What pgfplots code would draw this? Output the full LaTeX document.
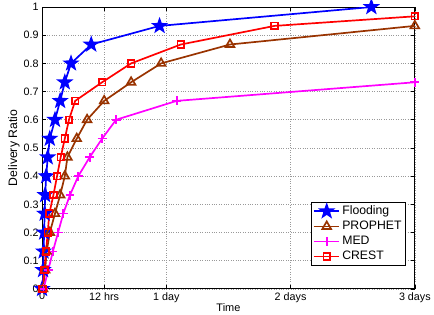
\documentclass[border={5bp 0pt 0pt 0pt}]{standalone}
\usepackage{pgfplots}
\pgfplotsset{compat=1.18}
\usepackage{fontspec}
\setmainfont{Liberation Sans}
\definecolor{cbrown}{rgb}{0.6,0.2,0}
\definecolor{cmag}{rgb}{1,0,1}
\pgfdeclareplotmark{fstar}{%
 \pgfpathmoveto{\pgfpointpolar{90}{\pgfplotmarksize}}%
 \pgfpathlineto{\pgfpointpolar{126}{0.4\pgfplotmarksize}}%
 \pgfpathlineto{\pgfpointpolar{162}{\pgfplotmarksize}}%
 \pgfpathlineto{\pgfpointpolar{198}{0.4\pgfplotmarksize}}%
 \pgfpathlineto{\pgfpointpolar{234}{\pgfplotmarksize}}%
 \pgfpathlineto{\pgfpointpolar{270}{0.4\pgfplotmarksize}}%
 \pgfpathlineto{\pgfpointpolar{306}{\pgfplotmarksize}}%
 \pgfpathlineto{\pgfpointpolar{342}{0.4\pgfplotmarksize}}%
 \pgfpathlineto{\pgfpointpolar{18}{\pgfplotmarksize}}%
 \pgfpathlineto{\pgfpointpolar{54}{0.4\pgfplotmarksize}}%
 \pgfpathclose
 \pgfusepathqfillstroke
}
\begin{document}
\begin{tikzpicture}
\begin{axis}[
  scale only axis,
  width=373bp, height=282bp,
  xmin=0, xmax=72, ymin=0, ymax=1,
  xtick={0,12,24,48,72},
  xticklabels={0,12 hrs,1 day,2 days,3 days},
  ytick={0,0.1,...,1.0},
  yticklabels={0,0.1,0.2,0.3,0.4,0.5,0.6,0.7,0.8,0.9,1},
  tick align=inside,
  major tick length=4bp,
  grid=major,
  major grid style={dotted, gray!80, line width=0.6pt},
  axis line style={line width=0.8pt},
  tick style={black, line width=0.6pt},
  tick label style={font=\fontsize{10.8}{12}\selectfont},
  /pgf/number format/assume math mode=true,
  xlabel={Time}, ylabel={Delivery Ratio},
  xlabel style={font=\fontsize{11}{13}\selectfont, yshift=6bp},
  ylabel style={font=\fontsize{12.3}{14}\selectfont, yshift=-3bp},
  legend style={at={(0.976,0.082)}, anchor=south east, draw=black, line width=0.8pt,
     font=\fontsize{12.3}{14}\selectfont, row sep=1pt, inner sep=2pt},
  legend cell align=left,
  legend image code/.code={\draw[#1] (0cm,0cm) -- (0.9cm,0cm); \draw[#1,mark repeat=2,mark phase=2] plot coordinates {(0cm,0cm) (0.45cm,0cm) (0.9cm,0cm)};},
]
\addplot[blue, line width=1.7pt, mark=fstar, mark size=6.5bp, mark options={solid,fill=blue}] coordinates {
(0,0) (0.2,0.067) (0.3,0.133) (0.4,0.2) (0.5,0.267) (0.6,0.333) (0.8,0.4) (1.1,0.467) (1.5,0.533) (2.5,0.6) (3.5,0.667) (4.4,0.733) (5.6,0.8) (9.5,0.867) (22.7,0.933) (63.6,1.0)};
\addlegendentry{Flooding}
\addplot[cbrown, line width=1.7pt, mark=triangle, mark size=5bp, mark options={solid}] coordinates {
(0.2,0) (0.6,0.067) (0.9,0.133) (1.5,0.2) (2.5,0.267) (3.5,0.333) (4.4,0.4) (4.9,0.467) (6.7,0.533) (8.7,0.6) (12,0.667) (17.2,0.733) (23,0.8) (36.3,0.867) (72,0.933)};
\addlegendentry{PROPHET}
\addplot[cmag, line width=1.7pt, mark=+, mark size=4.5bp, mark options={solid}] coordinates {
(0.3,0) (1.2,0.067) (2.1,0.133) (3.1,0.2) (4.1,0.267) (5.4,0.333) (7.0,0.4) (9.2,0.467) (11.6,0.533) (14.3,0.6) (26,0.667) (72,0.733)};
\addlegendentry{MED}
\addplot[red, line width=1.7pt, mark=square, mark size=3.3bp, mark options={solid}] coordinates {
(0.1,0) (0.45,0.067) (0.77,0.133) (1.1,0.2) (1.4,0.267) (2.2,0.333) (2.9,0.4) (3.6,0.467) (4.4,0.533) (5.2,0.6) (6.4,0.667) (11.6,0.733) (17.2,0.8) (26.8,0.867) (44.9,0.933) (72,0.967)};
\addlegendentry{CREST}
\end{axis}
\end{tikzpicture}
\end{document}
